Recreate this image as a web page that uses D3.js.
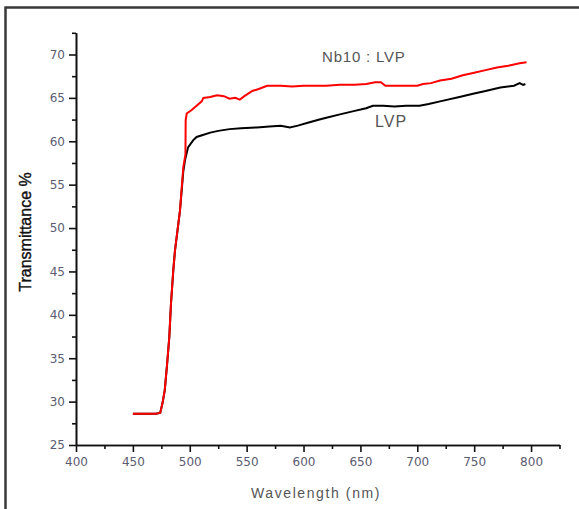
<!DOCTYPE html>
<html>
<head>
    <meta charset='utf-8'>
    <title>Transmittance</title>
    <script src='https://d3js.org/d3.v7.min.js'></script>
    <style>
      body { margin: 0; background: #fff; }
      .tick text { font-family: "DejaVu Sans", sans-serif; font-size: 12px; fill: #5b5b72; }
      .label { font-family: "Liberation Sans", Arial, sans-serif; fill: #555; }
    </style>
</head>
<body>
<div id="container"></div>

<script>

// ******* Data *******
var nbWave = [450, 470, 474, 476, 478, 480, 482, 483.5, 485.5, 487, 491.4, 494.3, 496.2, 496.4,
              497.3, 501.7, 506, 510.5, 512, 518, 524, 530, 535, 540, 544, 548, 555, 560, 568,
              580, 590, 600, 610, 620, 632, 645, 655, 663, 668, 672, 680, 690, 700, 705, 712,
              720, 730, 740, 750, 760, 770, 780, 790, 796];
var nbTrans = [28.6, 28.6, 28.7, 29.8, 31.3, 34.2, 37.4, 41.3, 45.1, 47.4, 52.0, 57.0, 58.5, 62.4,
               63.2, 63.6, 64.1, 64.6, 65.0, 65.1, 65.3, 65.2, 64.9, 65.0, 64.8, 65.2, 65.8, 66.0, 66.4,
               66.4, 66.3, 66.4, 66.4, 66.4, 66.5, 66.5, 66.6, 66.8, 66.8, 66.4, 66.4, 66.4, 66.4, 66.6, 66.7,
               67.0, 67.2, 67.6, 67.9, 68.2, 68.5, 68.7, 69.0, 69.1];

var lvpWave = [450, 470, 474, 476, 478, 480, 482, 483.5, 485.5, 487, 491.4, 494.3, 495.8, 498.5,
               502.9, 506, 510.8, 518, 525, 535, 545, 559, 570, 580, 588, 595, 603, 614, 620,
               632, 645, 655, 661, 670, 680, 690, 702, 710, 720, 737, 750, 760, 773, 785, 790, 793, 795];
var lvpTrans = [28.6, 28.6, 28.7, 29.8, 31.3, 34.2, 37.4, 41.3, 45.1, 47.4, 52.0, 56.5, 57.8, 59.3,
                60.1, 60.5, 60.7, 61.0, 61.2, 61.4, 61.5, 61.6, 61.7, 61.8, 61.6, 61.8, 62.1, 62.5, 62.7,
                63.1, 63.5, 63.8, 64.1, 64.1, 64.0, 64.1, 64.1, 64.3, 64.6, 65.1, 65.5, 65.8, 66.2, 66.4, 66.7, 66.5, 66.6];

var xTicks = [400, 450, 500, 550, 600, 650, 700, 750, 800];
var xMinor = [425, 475, 525, 575, 625, 675, 725, 775, 825];
var yTicks = [25, 30, 35, 40, 45, 50, 55, 60, 65, 70];
var yMinor = [27.5, 32.5, 37.5, 42.5, 47.5, 52.5, 57.5, 62.5, 67.5, 72.5];

// ******* Constants *******
const width = 579,
      height = 509,
      margin = { top: 32, bottom: 64, left: 76, right: 19 };

var svg = d3.select("#container").append("svg")
            .attr("width", width)
            .attr("height", height);

// frame (left and top edges only)
svg.append("path")
   .attr("d", "M5.5,509 L5.5,7.5 L579,7.5")
   .attr("fill", "none")
   .attr("stroke", "#3a3a3a")
   .attr("stroke-width", 2.5);

// ******* Scales *******
var xScale = d3.scaleLinear()
    .domain([400, 825])
    .range([margin.left, width - margin.right - 0.5]);
var yScale = d3.scaleLinear()
    .domain([25, 72.5])
    .range([height - margin.bottom, margin.top + 0.8]);

// ******* Lines *******
var line = d3.line()
    .x(function(d) { return xScale(d[0]); })
    .y(function(d) { return yScale(d[1]); });

svg.append("path")
   .datum(d3.zip(lvpWave, lvpTrans))
   .attr("fill", "none")
   .attr("stroke", "#000")
   .attr("stroke-width", 2)
   .attr("d", line);

svg.append("path")
   .datum(d3.zip(nbWave, nbTrans))
   .attr("fill", "none")
   .attr("stroke", "#ff0000")
   .attr("stroke-width", 2)
   .attr("d", line);

// ******* Axes *******
svg.append("g")
    .attr("transform", `translate(0, ${height - margin.bottom})`)
    .call(d3.axisBottom(xScale).tickValues(xTicks).tickSize(7).tickSizeOuter(0).tickPadding(5));
svg.append("g")
    .attr("transform", `translate(0, ${height - margin.bottom})`)
    .call(d3.axisBottom(xScale).tickValues(xMinor).tickSize(4).tickSizeOuter(0).tickFormat(""));

svg.append("g")
    .attr("transform", `translate(${margin.left}, 0)`)
    .call(d3.axisLeft(yScale).tickValues(yTicks).tickSize(7).tickSizeOuter(0).tickPadding(4));
svg.append("g")
    .attr("transform", `translate(${margin.left}, 0)`)
    .call(d3.axisLeft(yScale).tickValues(yMinor).tickSize(4).tickSizeOuter(0).tickFormat(""));

svg.selectAll(".domain, .tick line")
   .attr("stroke", "#111")
   .attr("stroke-width", 1.6);

// ******* Captions *******
svg.append("text")
   .attr("class", "label")
   .attr("transform", `translate(${316}, ${498})`)
   .attr("text-anchor", "middle")
   .style("font-size", "14px")
   .style("letter-spacing", "1.6px")
   .text("Wavelength (nm)");

svg.append("text")
   .attr("class", "label")
   .attr("transform", `translate(${31}, ${232}) rotate(-90)`)
   .attr("text-anchor", "middle")
   .style("font-size", "16px")
   .style("fill", "#111")
   .style("stroke", "#111")
   .style("stroke-width", 0.4)
   .text("Transmittance %");

svg.append("text")
   .attr("class", "label")
   .attr("x", 322)
   .attr("y", 62)
   .style("font-size", "15px")
   .style("letter-spacing", "0.8px")
   .text("Nb10 : LVP");

svg.append("text")
   .attr("class", "label")
   .attr("x", 375)
   .attr("y", 127)
   .style("font-size", "16px")
   .style("letter-spacing", "1px")
   .text("LVP");

</script>
</body>
</html>
